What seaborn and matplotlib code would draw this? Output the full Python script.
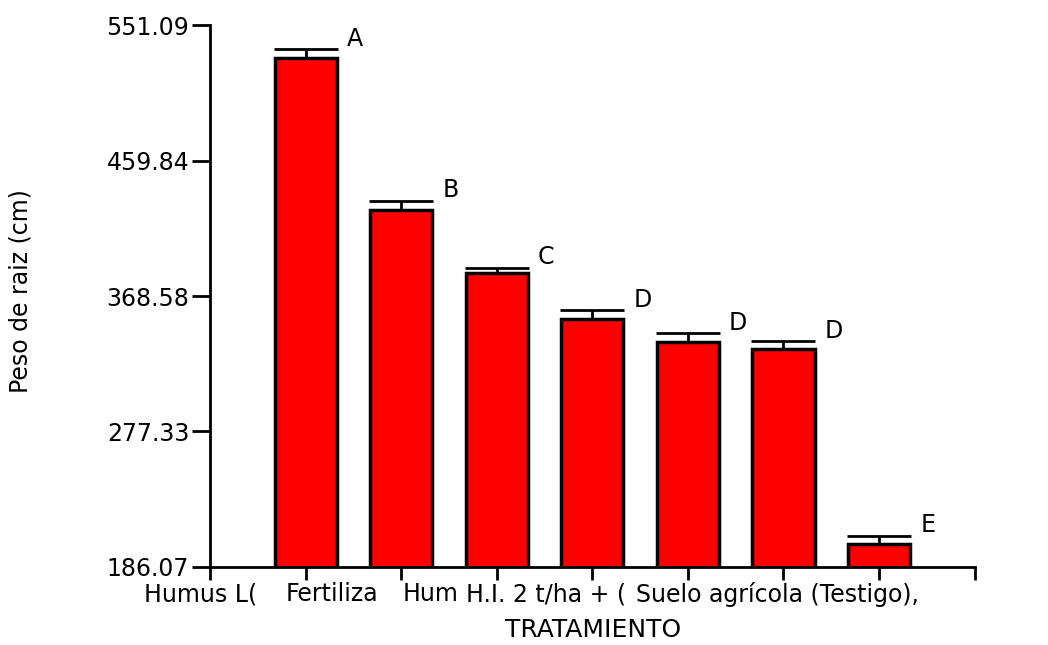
import numpy as np
import pandas as pd
import matplotlib
matplotlib.use('Agg')
import matplotlib.pyplot as plt
import seaborn as sns

# ── DATA ────────────────────────────────────────────────────────────────────
treatments = ["T1", "T2", "T3", "T4", "T5", "T6", "T7"]
peso_raiz  = [528.8, 426.7, 384.1, 353.0, 337.5, 332.8, 201.6]
err_sup    = [6.0, 6.0, 3.5, 6.0, 6.0, 5.4, 5.4]
letters    = ["A", "B", "C", "D", "D", "D", "E"]

# clipped tick labels as drawn in the original (GraphPad style overlap)
xlabels     = ["Humus L(", "Fertiliza", "Hum", "H.I. 2 t/ha + (", "Suelo agrícola (Testigo),"]
xlabel_left = [-1.69, -0.21, 1.01, 1.68, 3.46]

yticks = [186.07, 277.33, 368.58, 459.84, 551.09]

df = pd.DataFrame({"tratamiento": treatments, "peso": peso_raiz})

# ── PLOT ────────────────────────────────────────────────────────────────────
sns.set_style("ticks")
plt.rcParams['font.family'] = ['DejaVu Sans']
plt.rcParams.update({"text.color": "black", "axes.labelcolor": "black",
                     "xtick.color": "black", "ytick.color": "black",
                     "axes.edgecolor": "black"})

fig = plt.figure(figsize=(10.48, 6.45), dpi=100)
ax = fig.add_axes([0.2004, 0.121, 0.7296, 0.840])

sns.barplot(data=df, x="tratamiento", y="peso", color="#FF0000",
            edgecolor="black", linewidth=2.5, width=0.65, saturation=1,
            errorbar=None, ax=ax)

# one-sided (upper) error bars
x = np.arange(len(treatments))
ax.errorbar(x, peso_raiz, yerr=[np.zeros(len(err_sup)), err_sup],
            fmt="none", ecolor="black", elinewidth=2, capsize=23, capthick=2,
            zorder=3)

for i, (v, e, l) in enumerate(zip(peso_raiz, err_sup, letters)):
    ax.text(i + 0.43, v + e - 1.0, l, ha="left", va="bottom", fontsize=17)

ax.set_xlim(-1, 7)
ax.set_ylim(186.07, 551.09)
ax.set_yticks(yticks)
ax.set_yticklabels([f"{t:.2f}" for t in yticks], fontsize=17)
ax.set_xticks(np.arange(-1, 8))
ax.set_xticklabels([""] * 9)

for txt, xl in zip(xlabels, xlabel_left):
    ax.text(xl, -0.028, txt, ha="left", va="top", fontsize=17,
            transform=ax.get_xaxis_transform())

ax.set_xlabel("TRATAMIENTO", fontsize=18, va="top")
ax.xaxis.set_label_coords(0.501, -0.095)
ax.set_ylabel("Peso de raiz (cm)", fontsize=17)
ax.yaxis.set_label_coords(-0.232, 0.51)

sns.despine(ax=ax)
for s in ["left", "bottom"]:
    ax.spines[s].set_linewidth(2)
ax.tick_params(axis="both", width=2, length=9, direction="out")
ax.tick_params(axis="y", length=13, pad=2)

fig.savefig("out.png", dpi=100)
plt.close(fig)
